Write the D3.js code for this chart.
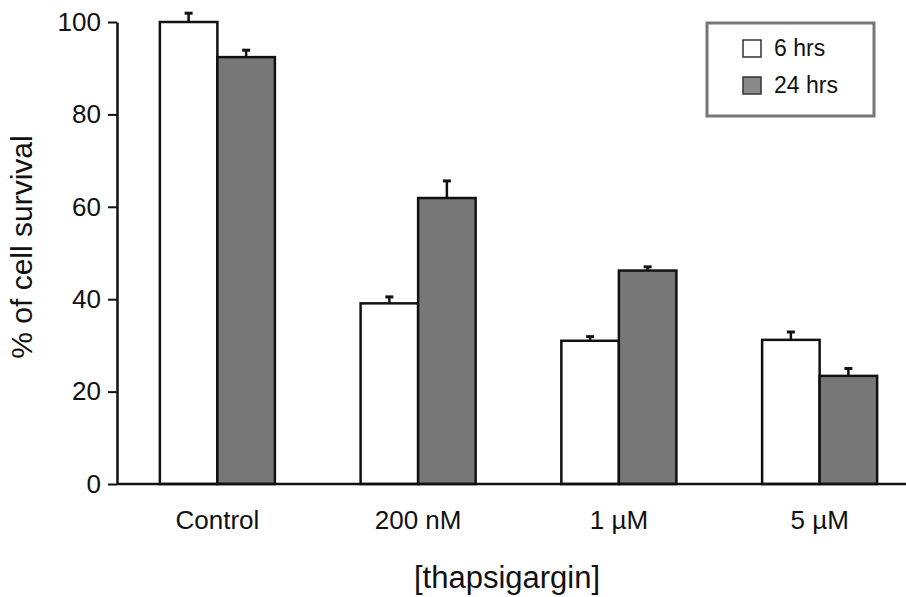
<!DOCTYPE html>
<html>
<head>
<meta charset="utf-8">
<script src="https://cdn.jsdelivr.net/npm/d3@7"></script>
<style>
  body { margin: 0; background: #fff; }
  svg { font-family: Arial, "Liberation Sans", Helvetica, sans-serif; }
</style>
</head>
<body>
<div id="chart"></div>
<script>
const width = 906;
const height = 597;

const categories = ["Control", "200 nM", "1 µM", "5 µM"];
const series = ["6 hrs", "24 hrs"];
const survival6h = [100, 39.1, 31.0, 31.2];
const survival24h = [92.4, 61.9, 46.2, 23.4];
const error6h = [1.9, 1.4, 0.9, 1.7];
const error24h = [1.5, 3.7, 0.8, 1.6];
const yTicks = [0, 20, 40, 60, 80, 100];

const colors = { "6 hrs": "#ffffff", "24 hrs": "#777777" };

const data = categories.map((c, i) => ({
  category: c,
  values: [
    { series: "6 hrs", value: survival6h[i], err: error6h[i] },
    { series: "24 hrs", value: survival24h[i], err: error24h[i] }
  ]
}));

const svg = d3.select("#chart")
  .append("svg")
  .attr("width", width)
  .attr("height", height);

// X scales
const x = d3.scaleBand()
  .domain(categories)
  .range([117, 920])
  .paddingInner(0.427)
  .paddingOuter(0.2135);

const xSub = d3.scaleBand()
  .domain(series)
  .range([0, x.bandwidth()]);

// Y scale
const y = d3.scaleLinear()
  .domain([0, 100])
  .range([484, 22]);

// Bars
const groups = svg.selectAll("g.group")
  .data(data)
  .enter()
  .append("g")
  .attr("class", "group")
  .attr("transform", d => `translate(${x(d.category)},0)`);

groups.selectAll("rect")
  .data(d => d.values)
  .enter()
  .append("rect")
  .attr("x", d => xSub(d.series))
  .attr("y", d => y(d.value))
  .attr("width", xSub.bandwidth())
  .attr("height", d => y(0) - y(d.value))
  .attr("fill", d => colors[d.series])
  .attr("stroke", "#111")
  .attr("stroke-width", 2.5);

// Error bars
groups.selectAll("line.err")
  .data(d => d.values)
  .enter()
  .append("line")
  .attr("class", "err")
  .attr("x1", d => xSub(d.series) + xSub.bandwidth() / 2)
  .attr("x2", d => xSub(d.series) + xSub.bandwidth() / 2)
  .attr("y1", d => y(d.value))
  .attr("y2", d => y(d.value + d.err))
  .attr("stroke", "#111")
  .attr("stroke-width", 2.5);

groups.selectAll("line.cap")
  .data(d => d.values)
  .enter()
  .append("line")
  .attr("class", "cap")
  .attr("x1", d => xSub(d.series) + xSub.bandwidth() / 2 - 4)
  .attr("x2", d => xSub(d.series) + xSub.bandwidth() / 2 + 4)
  .attr("y1", d => y(d.value + d.err))
  .attr("y2", d => y(d.value + d.err))
  .attr("stroke", "#111")
  .attr("stroke-width", 3);

// Y axis
const yAxis = svg.append("g")
  .attr("transform", "translate(117,0)")
  .call(d3.axisLeft(y).tickValues(yTicks).tickSize(9).tickSizeOuter(0).tickPadding(7));
yAxis.select(".domain").attr("stroke", "#111").attr("stroke-width", 2.5);
yAxis.selectAll(".tick line").attr("stroke", "#111").attr("stroke-width", 2);
yAxis.selectAll(".tick text")
  .attr("fill", "#111")
  .style("font-size", "26px")
  .style("font-family", "Arial, 'Liberation Sans', sans-serif");

// X axis
const xAxis = svg.append("g")
  .attr("transform", `translate(0,${y(0)})`)
  .call(d3.axisBottom(x).tickSize(0).tickPadding(27));
xAxis.select(".domain")
  .attr("d", `M117,0H906`)
  .attr("stroke", "#111")
  .attr("stroke-width", 2.5);
xAxis.selectAll(".tick text")
  .attr("fill", "#111")
  .style("font-size", "26px")
  .style("font-family", "Arial, 'Liberation Sans', sans-serif");

// Axis labels
svg.append("text")
  .attr("x", 507)
  .attr("y", 588)
  .attr("text-anchor", "middle")
  .attr("fill", "#111")
  .style("font-size", "31px")
  .text("[thapsigargin]");

svg.append("text")
  .attr("transform", "rotate(-90)")
  .attr("x", -247)
  .attr("y", 32)
  .attr("text-anchor", "middle")
  .attr("fill", "#111")
  .style("font-size", "30px")
  .text("% of cell survival");

// Legend
const legend = svg.append("g");
legend.append("rect")
  .attr("x", 707)
  .attr("y", 23)
  .attr("width", 167)
  .attr("height", 93)
  .attr("fill", "#fff")
  .attr("stroke", "#777")
  .attr("stroke-width", 3);

series.forEach((s, i) => {
  legend.append("rect")
    .attr("x", 743)
    .attr("y", 40 + i * 37)
    .attr("width", 18)
    .attr("height", 17)
    .attr("fill", colors[s] === "#777777" ? "#8a8a8a" : colors[s])
    .attr("stroke", "#333")
    .attr("stroke-width", 1.5);
  legend.append("text")
    .attr("x", 774)
    .attr("y", 56 + i * 37)
    .attr("fill", "#111")
    .style("font-size", "23px")
    .text(s);
});
</script>
</body>
</html>
